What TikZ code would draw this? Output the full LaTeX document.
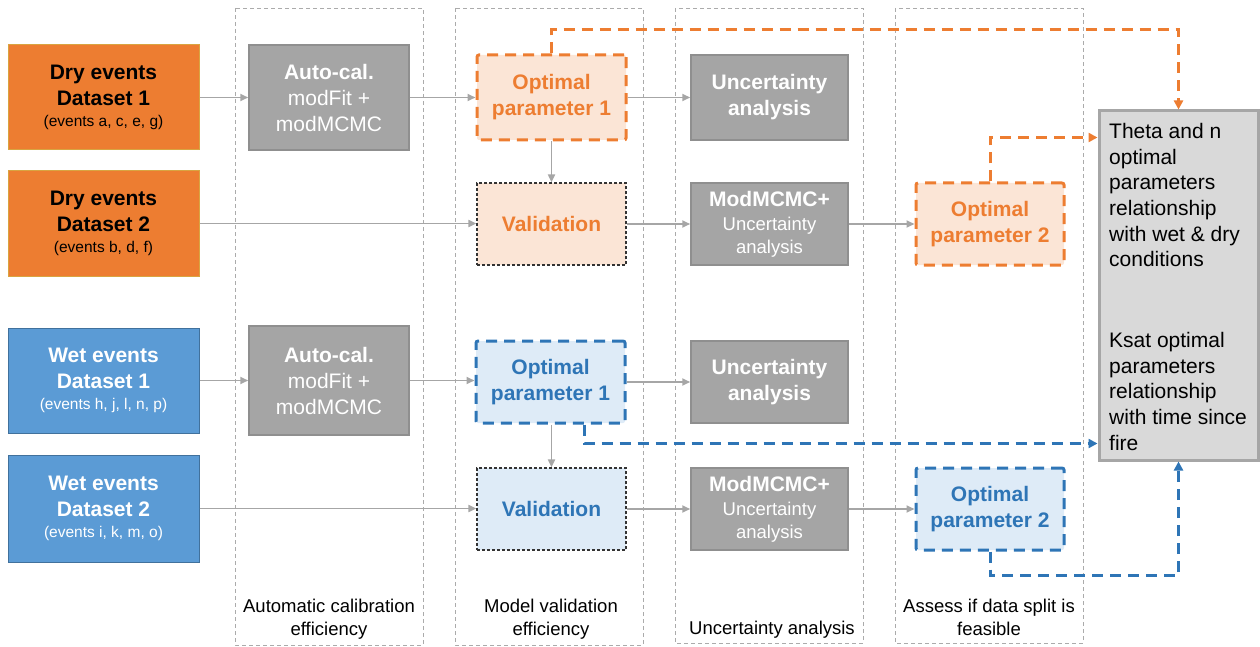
\documentclass[tikz,border=0pt]{standalone}
\usepackage{fontspec}
\setmainfont{Liberation Sans}
\usetikzlibrary{arrows.meta,calc}

\definecolor{dryor}{HTML}{ED7D31}
\definecolor{dryedge}{HTML}{D9A441}
\definecolor{lightor}{HTML}{FBE5D6}
\definecolor{wetbl}{HTML}{5B9BD5}
\definecolor{wetedge}{HTML}{41719C}
\definecolor{darkbl}{HTML}{2E75B6}
\definecolor{lightbl}{HTML}{DEEBF7}
\definecolor{boxgray}{HTML}{A5A5A5}
\definecolor{boxedge}{HTML}{8F8F8F}
\definecolor{arrgray}{HTML}{A6A6A6}
\definecolor{colgray}{HTML}{ABABAB}
\definecolor{resgray}{HTML}{D9D9D9}
\definecolor{resedge}{HTML}{A6A6A6}

\newcommand\bigtxt{\fontsize{21}{26}\selectfont}
\newcommand\smalltxt{\fontsize{15.5}{19}\selectfont}
\newcommand\midtxt{\fontsize{18.5}{23}\selectfont}
\newcommand\restxt{\fontsize{21}{25.7}\selectfont}

\begin{document}
\begin{tikzpicture}[x=1pt,y=-1pt,
  every node/.style={inner sep=0pt, align=center},
  colframe/.style={draw=colgray, line width=0.9pt, dash pattern=on 4pt off 3pt},
  datadry/.style={fill=dryor, draw=dryedge, line width=1pt, minimum width=191pt, minimum height=105pt, text=black, font=\bigtxt},
  datawet/.style={fill=wetbl, draw=wetedge, line width=1pt, minimum width=191pt, minimum height=105pt, text=white, font=\bigtxt},
  graybox/.style={fill=boxgray, draw=boxedge, line width=1.5pt, text=white, minimum width=157pt, font=\bigtxt},
  optdry/.style={fill=lightor, draw=dryor, line width=3pt, dash pattern=on 11pt off 7pt, rounded corners=2pt, text=dryor, font=\bfseries\bigtxt, minimum width=149pt},
  optwet/.style={fill=lightbl, draw=darkbl, line width=3pt, dash pattern=on 11pt off 7pt, rounded corners=2pt, text=darkbl, font=\bfseries\bigtxt, minimum width=149pt},
  valbox/.style={draw=black!80, line width=1.2pt, dash pattern=on 3pt off 2pt, font=\bfseries\bigtxt, minimum width=149pt, minimum height=82pt},
  garrow/.style={draw=arrgray, line width=1.8pt, -{Triangle[length=8pt,width=7pt]}},
  oarrow/.style={draw=dryor, line width=3pt, dash pattern=on 11pt off 7pt, -{Triangle[length=9pt,width=9pt]}},
  barrow/.style={draw=darkbl, line width=3pt, dash pattern=on 11pt off 7pt, -{Triangle[length=9pt,width=9pt]}},
  collabel/.style={font=\midtxt, anchor=north}
]
\useasboundingbox (0,0) rectangle (1260,647);

% stage frames
\draw[colframe] (235,8) rectangle (423,645);
\draw[colframe] (455,8) rectangle (643,645);
\draw[colframe] (675,8) rectangle (863,643);
\draw[colframe] (895,8) rectangle (1083,643);

% input datasets
\node[datadry] (dry1) at (103.5,97.5) {\textbf{Dry events}\\ \textbf{Dataset 1}\\[-5pt] {\smalltxt (events a, c, e, g)}};
\node[datadry] (dry2) at (103.5,223.5) {\textbf{Dry events}\\ \textbf{Dataset 2}\\[-5pt] {\smalltxt (events b, d, f)}};
\node[datawet] (wet1) at (103.5,380.5) {\textbf{Wet events}\\ \textbf{Dataset 1}\\[-5pt] {\smalltxt (events h, j, l, n, p)}};
\node[datawet, minimum height=107pt] (wet2) at (103.5,508.5) {\textbf{Wet events}\\ \textbf{Dataset 2}\\[-5pt] {\smalltxt (events i, k, m, o)}};

% automatic calibration
\node[graybox, minimum width=160pt, minimum height=105pt] (ac1) at (329,97.5) {\textbf{Auto-cal.}\\ modFit +\\ modMCMC};
\node[graybox, minimum width=160pt, minimum height=109pt] (ac2) at (329,380.5) {\textbf{Auto-cal.}\\ modFit +\\ modMCMC};

% dry branch
\node[optdry, minimum height=85pt] (opt1d) at (551.5,97.5) {Optimal\\ parameter 1};
\node[valbox, fill=lightor, text=dryor] (vald) at (551.5,224) {Validation};
\node[graybox, minimum height=85pt, font=\bfseries\bigtxt] (unc1) at (769.5,97.5) {Uncertainty\\ analysis};
\node[graybox, minimum height=82pt] (modd) at (769.5,224) {\textbf{ModMCMC+}\\[-2pt] {\midtxt Uncertainty}\\[-3pt] {\midtxt analysis}};
\node[optdry, minimum width=148pt, minimum height=82pt] (opt2d) at (990,224) {Optimal\\ parameter 2};

% wet branch
\node[optwet, minimum height=82pt] (opt1w) at (550.5,382) {Optimal\\ parameter 1};
\node[valbox, fill=lightbl, text=darkbl] (valw) at (551.5,509) {Validation};
\node[graybox, minimum height=82pt, font=\bfseries\bigtxt] (uncw) at (769.5,382) {Uncertainty\\ analysis};
\node[graybox, minimum height=82pt] (modw) at (769.5,509) {\textbf{ModMCMC+}\\[-2pt] {\midtxt Uncertainty}\\[-3pt] {\midtxt analysis}};
\node[optwet, minimum width=148pt, minimum height=82pt] (opt2w) at (990,509) {Optimal\\ parameter 2};

% results
\node[fill=resgray, draw=resedge, line width=3pt, minimum width=159pt, minimum height=349pt] (res) at (1178.5,285.5) {};
\node[anchor=north west, align=left, font=\restxt] (restheta) at (1109,123) {Theta and n\\ optimal\\ parameters\\ relationship\\ with wet \& dry\\ conditions};
\node[anchor=north west, align=left, font=\restxt] (resksat) at (1109,332) {Ksat optimal\\ parameters\\ relationship\\ with time since\\ fire};

% stage labels
\node[collabel] (lab1) at (329,599) {Automatic calibration\\ efficiency};
\node[collabel] (lab2) at (551,599) {Model validation\\ efficiency};
\node[collabel] (lab3) at (772,621) {Uncertainty analysis};
\node[collabel] (lab4) at (989,599) {Assess if data split is\\ feasible};

% flow, dry
\draw[garrow] (dry1) -- (ac1);
\draw[garrow] (ac1) -- (opt1d);
\draw[garrow] (opt1d) -- (unc1);
\draw[garrow] (opt1d) -- (vald);
\draw[garrow] (dry2.east) -- (dry2.east -| vald.west);
\draw[garrow] (vald) -- (modd);
\draw[garrow] (modd) -- (opt2d);

% flow, wet
\draw[garrow] (wet1) -- (ac2);
\draw[garrow] (ac2.east) -- (ac2.east -| opt1w.west);
\draw[garrow] (opt1w) -- (uncw);
\draw[garrow] (opt1w.south -| valw.north) -- (valw.north);
\draw[garrow] (wet2.east) -- (wet2.east -| valw.west);
\draw[garrow] (valw) -- (modw);
\draw[garrow] (modw) -- (opt2w);

% parameters to relationships
\draw[oarrow] (opt1d.north) -- ++(0,-24) -| (res.north);
\draw[oarrow] (opt2d.north) |- ([yshift=-28pt]res.north west);
\draw[barrow] ([xshift=34pt]opt1w.south) |- ([yshift=18pt]res.south west);
\draw[barrow] (opt2w.south) -- ++(0,24) -| (res.south);
\end{tikzpicture}
\end{document}
